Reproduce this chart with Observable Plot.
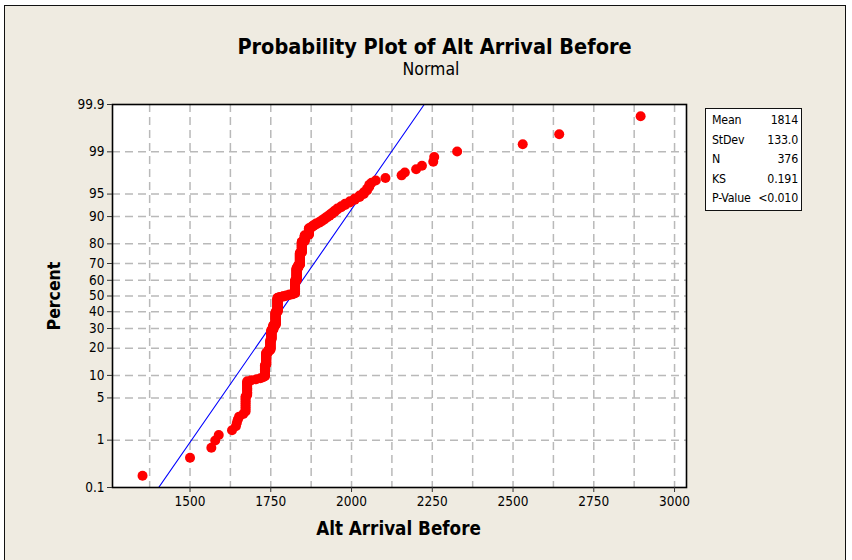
<!DOCTYPE html>
<html><head><meta charset="utf-8">
<script src="https://cdn.jsdelivr.net/npm/d3@7"></script>
<script src="https://cdn.jsdelivr.net/npm/@observablehq/plot@0.6"></script>
<style>
html,body{margin:0;padding:0;background:#fff;}
#wrap{position:relative;width:852px;height:560px;overflow:hidden;font-family:"DejaVu Sans Condensed","DejaVu Sans",sans-serif;font-stretch:condensed;}
#frame{position:absolute;left:4px;top:5px;width:840px;height:600px;border:1px solid #111;background:#efebe1;}
#chart{position:absolute;left:0;top:0;}
.t{position:absolute;white-space:nowrap;color:#000;line-height:1;}
#title{left:0;width:869px;text-align:center;top:35.5px;font-size:21.5px;font-weight:bold;}
#subtitle{left:0;width:862px;text-align:center;top:61px;font-size:17.5px;}
#xlabel{left:0;width:797px;text-align:center;top:520px;font-size:18.7px;font-weight:bold;}
#ylabel{left:55px;top:296px;font-size:17.5px;font-weight:bold;transform:translate(-50%,-50%) rotate(-90deg);}
#stats{position:absolute;left:705px;top:108px;width:95px;height:101px;border:1px solid #111;background:#fff;font-size:12.3px;letter-spacing:-0.2px;}
#stats .row{position:absolute;left:6px;right:3px;height:16px;line-height:16px;}
#stats .row span.v{position:absolute;right:0;}
</style></head>
<body>
<div id="wrap">
  <div id="frame"></div>
  <div id="chart"></div>
  <div class="t" id="title"></div>
  <div class="t" id="subtitle"></div>
  <div class="t" id="xlabel"></div>
  <div class="t" id="ylabel"></div>
  <div id="stats"></div>
</div>
<script>
// ---- chart text ----
const titleText = "Probability Plot of Alt Arrival Before";
const subtitleText = "Normal";
const xLabelText = "Alt Arrival Before";
const yLabelText = "Percent";

// ---- observed values (sorted) with how many observations share each value ----
const obsValues = [1353,1500,1566,1578,1589,1630,1642,1645,1648,1652,1665,1672,1677,1690,1705,1718,1726,1732,1736,1742,1749,1752,1758,1765,1771,1778,1788,1798,1808,1818,1825,1830,1835,1840,1846,1855,1868,1876,1882,1890,1900,1908,1916,1924,1932,1940,1948,1956,1968,1980,1995,2010,2025,2038,2048,2055,2062,2075,2105,2155,2165,2200,2218,2253,2256,2327,2530,2643,2895];
const obsCounts = [1,1,1,1,1,1,1,1,1,1,1,9,12,1,1,1,1,14,18,4,18,20,10,30,34,2,2,2,2,2,31,29,6,25,20,10,10,2,2,2,2,2,2,2,2,2,2,2,2,2,2,2,2,2,2,2,1,1,1,1,1,1,1,1,1,1,1,1,1];

// ---- fitted normal distribution ----
const fitMean = 1814;
const fitStDev = 133.0;

// ---- stats legend ----
const statLabels = ["Mean","StDev","N","KS","P-Value"];
const statValues = ["1814","133.0","376","0.191","<0.010"];

// ---- axes ----
const percentTicks = [0.1,1,5,10,20,30,40,50,60,70,80,90,95,99,99.9];
const percentTickLabels = ["0.1","1","5","10","20","30","40","50","60","70","80","90","95","99","99.9"];
const percentGrid = [1,5,10,20,30,40,50,60,70,80,90,95,99];
const xTicks = [1500,1750,2000,2250,2500,2750,3000];
const xGrid = [1375,1500,1625,1750,1875,2000,2125,2250,2375,2500,2625,2750,2875,3000];
const xDomain = [1260, 3037];

// inverse standard normal CDF (Acklam) – used for the probability scale
function qnorm(p){
  const a=[-3.969683028665376e+01,2.209460984245205e+02,-2.759285104469687e+02,1.383577518672690e+02,-3.066479806614716e+01,2.506628277459239e+00];
  const b=[-5.447609879822406e+01,1.615858368580409e+02,-1.556989798598866e+02,6.680131188771972e+01,-1.328068155288572e+01];
  const c=[-7.784894002430293e-03,-3.223964580411365e-01,-2.400758277161838e+00,-2.549732539343734e+00,4.374664141464968e+00,2.938163982698783e+00];
  const d=[7.784695709041462e-03,3.224671290700398e-01,2.445134137142996e+00,3.754408661907416e+00];
  const pl=0.02425, ph=1-pl; let q,r;
  if(p<pl){q=Math.sqrt(-2*Math.log(p));return (((((c[0]*q+c[1])*q+c[2])*q+c[3])*q+c[4])*q+c[5])/((((d[0]*q+d[1])*q+d[2])*q+d[3])*q+1);}
  if(p<=ph){q=p-0.5;r=q*q;return (((((a[0]*r+a[1])*r+a[2])*r+a[3])*r+a[4])*r+a[5])*q/(((((b[0]*r+b[1])*r+b[2])*r+b[3])*r+b[4])*r+1);}
  q=Math.sqrt(-2*Math.log(1-p));return -(((((c[0]*q+c[1])*q+c[2])*q+c[3])*q+c[4])*q+c[5])/((((d[0]*q+d[1])*q+d[2])*q+d[3])*q+1);
}

// expand observations and give each its median-rank percentile
const obs = [];
obsValues.forEach((v,k)=>{ for(let j=0;j<obsCounts[k];j++) obs.push(v); });
const n = obs.length;
const points = obs.map((v,idx)=>({x:v, z:qnorm((idx+1-0.3)/(n+0.4))}));

const zLo = qnorm(percentTicks[0]/100), zHi = qnorm(percentTicks[percentTicks.length-1]/100);
const tickZ = percentTicks.map(p=>qnorm(p/100));
const labelByZ = new Map(tickZ.map((z,i)=>[z, percentTickLabels[i]]));
const gridZ = percentGrid.map(p=>qnorm(p/100));
const fitLine = [zLo, zHi].map(z=>({z, x: fitMean + fitStDev*z}));

const font = '"DejaVu Sans Condensed","DejaVu Sans",sans-serif';
const chart = Plot.plot({
  width: 852, height: 560,
  marginLeft: 112, marginRight: 166, marginTop: 104, marginBottom: 73,
  style: {background: "transparent", fontFamily: font, fontSize: "13.5px", color: "#000", fontStretch: "condensed"},
  x: {domain: xDomain},
  y: {domain: [zLo, zHi]},
  marks: [
    Plot.frame({fill: "white", stroke: null}),
    Plot.gridX(xGrid, {stroke: "#b9b9b9", strokeOpacity: 1, strokeWidth: 1.5, strokeDasharray: "8,5"}),
    Plot.gridY(gridZ, {stroke: "#b9b9b9", strokeOpacity: 1, strokeWidth: 1.5, strokeDasharray: "8,5"}),
    Plot.line(fitLine, {x: "x", y: "z", stroke: "#0000ff", strokeWidth: 1.1, clip: true}),
    Plot.dot(points, {x: "x", y: "z", r: 5, fill: "#ff0000", stroke: null}),
    Plot.frame({stroke: "#000", strokeWidth: 1.6}),
    Plot.axisX(xTicks, {tickSize: 5, tickPadding: 4, label: null, stroke: "#333", tickFormat: d => String(d)}),
    Plot.axisY(tickZ, {tickSize: 5, tickPadding: 3, label: null, stroke: "#333", tickFormat: z => labelByZ.get(z)})
  ]
});
document.getElementById("chart").appendChild(chart);

document.getElementById("title").textContent = titleText;
document.getElementById("subtitle").textContent = subtitleText;
document.getElementById("xlabel").textContent = xLabelText;
document.getElementById("ylabel").textContent = yLabelText;

const stats = document.getElementById("stats");
statLabels.forEach((lab,i)=>{
  const row = document.createElement("div");
  row.className = "row";
  row.style.top = (3 + i*19.5) + "px";
  const a = document.createElement("span"); a.textContent = lab;
  const b = document.createElement("span"); b.className = "v"; b.textContent = statValues[i];
  row.appendChild(a); row.appendChild(b);
  stats.appendChild(row);
});
</script>
</body></html>
